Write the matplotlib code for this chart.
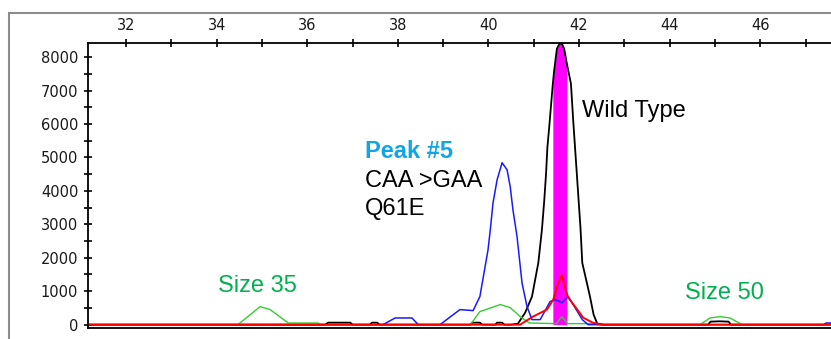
import numpy as np
import matplotlib
matplotlib.use("Agg")
from matplotlib import pyplot as plt
from matplotlib.patches import Rectangle
from matplotlib.ticker import MultipleLocator

###--- Traces (size, RFU) ---###
black_x = [31.2, 36.4, 36.46, 36.95, 37.0, 37.38, 37.43, 37.54, 37.6, 39.6, 39.64, 39.81, 39.86,
           40.15, 40.19, 40.3, 40.35, 40.5, 40.65, 40.81, 40.96, 41.10, 41.18, 41.23, 41.27, 41.30,
           41.34, 41.42, 41.45, 41.51, 41.57, 41.62, 41.67, 41.73, 41.82, 41.87, 41.91, 41.95,
           41.99, 42.03, 42.07, 42.24, 42.32, 42.40, 42.55, 44.85, 44.9, 45.1, 45.3, 45.35, 47.56]
black_y = [0, 0, 60, 60, 0, 0, 60, 60, 0, 0, 60, 60, 0,
           0, 60, 60, 0, 0, 30, 360, 840, 1850, 2850, 3700, 4500, 5300,
           5900, 7200, 7600, 8250, 8400, 8400, 8250, 7800, 7200, 6100, 5300, 4500,
           3700, 2900, 1850, 840, 300, 30, 0, 0, 90, 100, 90, 0, 0]

blue_x = [31.2, 37.67, 37.94, 38.31, 38.45, 38.93, 39.37, 39.66, 39.81, 39.99, 40.04, 40.10,
          40.19, 40.30, 40.41, 40.48, 40.54, 40.63, 40.74, 40.85, 40.96, 41.14, 41.36, 41.47,
          41.62, 41.76, 41.91, 42.07, 42.2, 47.4, 47.45, 47.56]
blue_y = [0, 0, 200, 200, 0, 0, 450, 420, 840, 2240, 2840, 3640,
          4330, 4840, 4630, 4120, 3430, 2630, 1250, 540, 150, 150, 690, 750,
          660, 840, 510, 150, 0, 0, 50, 50]

green_x = [31.2, 34.47, 34.96, 35.18, 35.58, 36.24, 36.3, 39.6, 39.81, 40.26, 40.48, 40.70,
           40.9, 41.5, 41.62, 41.75, 42.3, 42.4, 44.67, 44.89, 45.11, 45.33, 45.6, 47.56]
green_y = [0, 0, 540, 450, 50, 50, 0, 0, 390, 600, 510, 240,
           50, 30, 240, 30, 30, 0, 0, 200, 240, 200, 0, 0]

red_x = [31.2, 40.70, 40.98, 41.29, 41.43, 41.54, 41.62, 41.69, 41.76, 41.96, 42.09, 42.3, 42.5, 47.56]
red_y = [0, 0, 240, 450, 750, 1250, 1490, 1100, 810, 450, 210, 60, 0, 0]

band = [41.42, 41.73]

###--- Figure ---###
fig = plt.figure(figsize=(8.31, 3.39), dpi=100)
fig.patches.append(Rectangle((9/831, -0.2), 1.2, 1.2 - 13/339, transform=fig.transFigure,
                             fill=False, edgecolor="#8c8c8c", linewidth=1.5))
ax = fig.add_axes([88/831, 11/339, 1 - 88/831, 285/339])

bx = np.array(black_x)
by = np.array(black_y)
ax.fill_between(bx, 0, by, where=(bx >= band[0]) & (bx <= band[1]), color="#ff00ff", linewidth=0, zorder=1)
ax.plot(black_x, black_y, color="black", lw=1.3, zorder=2)
ax.plot(green_x, green_y, color="#33cc33", lw=1.0, zorder=3)
ax.plot(blue_x, blue_y, color="#1a1aff", lw=1.1, zorder=4)
ax.plot(red_x, red_y, color="#ff0000", lw=1.4, zorder=5)

ax.set_xlim(31.16, 47.56)
ax.set_ylim(-100, 8420)

###--- Axes look ---###
ax.spines["right"].set_visible(False)
for s in ["left", "top", "bottom"]:
    ax.spines[s].set_linewidth(1.3)
ax.xaxis.tick_top()
ax.xaxis.set_major_locator(MultipleLocator(2))
ax.xaxis.set_minor_locator(MultipleLocator(1))
ax.yaxis.set_major_locator(MultipleLocator(1000))
ax.yaxis.set_minor_locator(MultipleLocator(500))
ax.tick_params(which="both", direction="inout", length=6, width=1.2, colors="black")
ax.tick_params(axis="x", which="both", bottom=False, top=True, pad=4)
ax.tick_params(axis="y", pad=4)
for lab in ax.get_xticklabels() + ax.get_yticklabels():
    lab.set_fontfamily("DejaVu Sans")
    lab.set_fontsize(10.5)
    lab.set_color("#1a1a1a")

###--- Annotations ---###
font = ["Liberation Sans", "DejaVu Sans"]
ax.text(42.07, 6210, "Wild Type", family=font, fontsize=17, color="black", va="baseline")
ax.text(37.28, 4985, "Peak #5", family=font, fontsize=17, color="#12a5e6", fontweight="bold", va="baseline")
ax.text(37.28, 4119, "CAA >GAA", family=font, fontsize=17, color="black", va="baseline")
ax.text(37.28, 3280, "Q61E", family=font, fontsize=17, color="black", va="baseline")
ax.text(34.03, 985, "Size 35", family=font, fontsize=17, color="#00b050", va="baseline")
ax.text(44.34, 776, "Size 50", family=font, fontsize=17, color="#00b050", va="baseline")

plt.savefig("out.png", dpi=100)
plt.close()
